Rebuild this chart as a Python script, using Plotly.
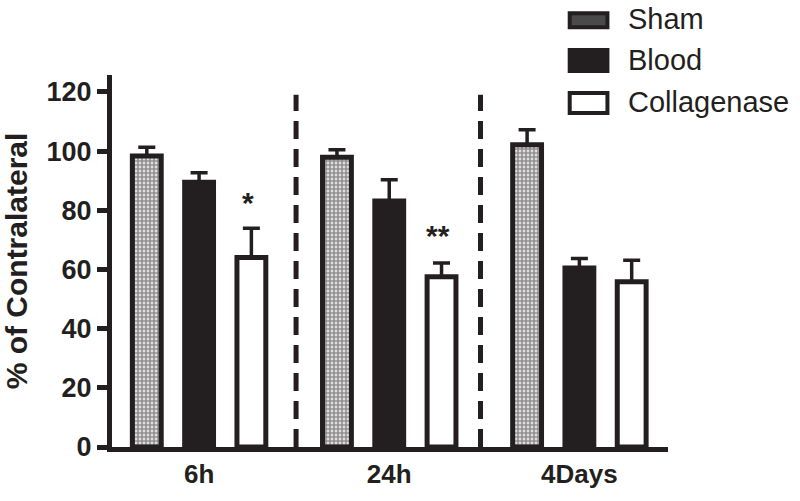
import plotly.graph_objects as go

categories = ["6h", "24h", "4Days"]
series_names = ["Sham", "Blood", "Collagenase"]
sham_vals = [98.3, 97.9, 102.1]
sham_err = [3.0, 2.5, 5.1]
blood_vals = [89.5, 83.1, 60.5]
blood_err = [3.2, 7.2, 3.2]
coll_vals = [64.0, 57.5, 55.8]
coll_err = [9.9, 4.7, 7.3]
y_ticks = [0, 20, 40, 60, 80, 100, 120]
signif_labels = ["*", "**", ""]
signif_y = [82.5, 71.5, None]

INK = "#231f20"
FONT = "Liberation Sans, Arial, sans-serif"

W, H = 800, 501
L, R, T, B = 108, 668, 75, 448


def px(x):
    return (x - L) / (R - L)


def py(y):
    return (B - y) / (B - T)


def err(arr):
    return dict(type="data", array=arr, arrayminus=[0] * len(arr), symmetric=False,
                color=INK, thickness=3.5, width=8.5)


fig = go.Figure()
fig.add_trace(go.Bar(
    x=categories, y=sham_vals, name=series_names[0], error_y=err(sham_err),
    marker=dict(color="white", line=dict(color=INK, width=5),
                pattern=dict(shape=".", fgcolor=INK, bgcolor="white", size=4, solidity=0.75)),
))
fig.add_trace(go.Bar(
    x=categories, y=blood_vals, name=series_names[1], error_y=err(blood_err),
    marker=dict(color=INK, line=dict(color=INK, width=5)),
))
fig.add_trace(go.Bar(
    x=categories, y=coll_vals, name=series_names[2], error_y=err(coll_err),
    marker=dict(color="white", line=dict(color=INK, width=5)),
))

# significance markers above collagenase bars
for i, (lab, yy) in enumerate(zip(signif_labels, signif_y)):
    if lab:
        fig.add_annotation(x=i + 0.258, y=yy, xref="x", yref="y", text=lab, showarrow=False,
                           font=dict(family=FONT, size=30, color=INK, weight="bold"),
                           xanchor="center", yanchor="middle")

# dashed separators between time points
for xs in [0.51, 1.48]:
    fig.add_shape(type="line", xref="x", yref="y", x0=xs, x1=xs, y0=0, y1=119,
                  line=dict(color=INK, width=5, dash="18px,10px"))

# custom legend (window pixel positions)
leg = [
    (series_names[0], 13, 27, "#4a4a4a"),
    (series_names[1], 50, 71, INK),
    (series_names[2], 93, 113, "white"),
]
for name, y0, y1, fill in leg:
    fig.add_shape(type="rect", xref="paper", yref="paper",
                  x0=px(569), x1=px(607), y0=py(y1), y1=py(y0),
                  line=dict(color=INK, width=4), fillcolor=fill)
    fig.add_annotation(xref="paper", yref="paper", x=px(626), y=py((y0 + y1) / 2 - 1),
                       text=name, showarrow=False, xanchor="left", yanchor="middle",
                       font=dict(family=FONT, size=29, color=INK))

fig.update_layout(
    width=W, height=H,
    margin=dict(l=L, r=W - R, t=T, b=H - B),
    paper_bgcolor="white", plot_bgcolor="white",
    barmode="group", bargap=0.175, bargroupgap=0.448,
    showlegend=False,
    font=dict(family=FONT, color=INK),
    xaxis=dict(range=[-0.458, 2.466], showline=True, linecolor=INK, linewidth=5,
               ticks="", showgrid=False, zeroline=False,
               tickfont=dict(family=FONT, size=26, color=INK, weight="bold")),
    yaxis=dict(range=[0, 125.7], tickvals=y_ticks, showline=True, linecolor=INK, linewidth=5,
               ticks="outside", ticklen=10, tickwidth=5, tickcolor=INK,
               showgrid=False, zeroline=False,
               tickfont=dict(family=FONT, size=27, color=INK, weight="bold"),
               title=dict(text="% of Contralateral", standoff=14,
                          font=dict(family=FONT, size=30, color=INK, weight="bold"))),
)

fig.write_html("out.html", config={"displayModeBar": False},
               post_script="document.body.style.margin='0';document.body.style.overflow='hidden';")
